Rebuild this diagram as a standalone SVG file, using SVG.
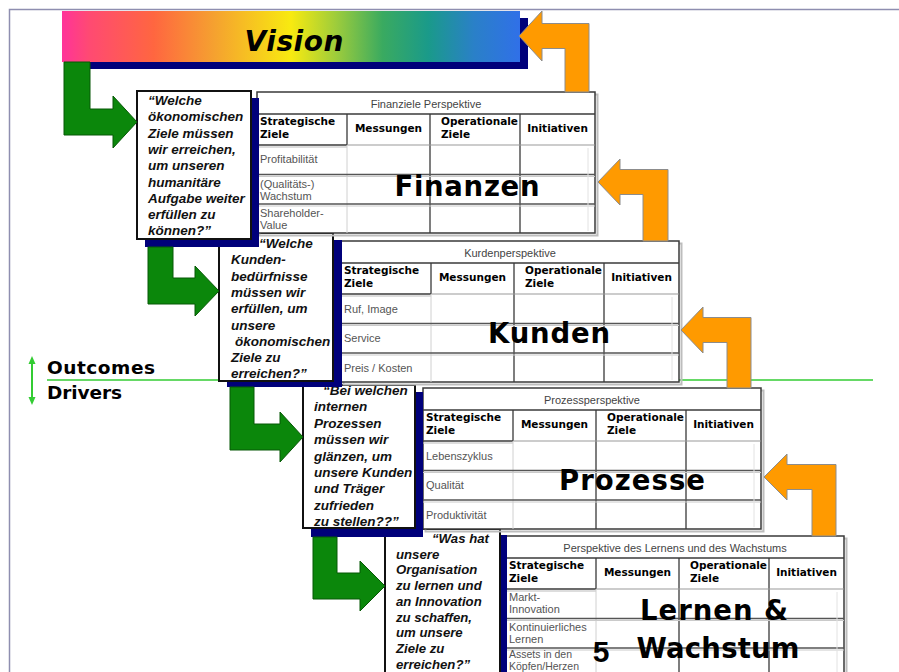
<svg xmlns="http://www.w3.org/2000/svg" width="899" height="672" viewBox="0 0 899 672">
  <defs>
    <linearGradient id="rainbow" x1="0" y1="0" x2="1" y2="0">
      <stop offset="0" stop-color="#ff3399"/>
      <stop offset="0.06" stop-color="#ff4a72"/>
      <stop offset="0.2" stop-color="#ff6640"/>
      <stop offset="0.33" stop-color="#f5a030"/>
      <stop offset="0.5" stop-color="#f8ea10"/>
      <stop offset="0.6" stop-color="#9ccc3c"/>
      <stop offset="0.7" stop-color="#3aaa60"/>
      <stop offset="0.8" stop-color="#1a9a8a"/>
      <stop offset="0.9" stop-color="#2a80c8"/>
      <stop offset="1" stop-color="#3070e8"/>
    </linearGradient>
    <!-- scorecard grid: title row, header row, three data rows, four columns -->
    <g id="grid">
      <rect x="2.5" y="2.5" width="338" height="141" fill="none" stroke="#bdbdbd" stroke-width="2"/>
      <rect x="0" y="0" width="338" height="141" fill="#fff" stroke="#3a3a3a" stroke-width="1.5"/>
      <path d="M0 22H338" stroke="#3a3a3a" stroke-width="1.3"/>
      <path d="M90 22V53M173 22V141M263 22V141" stroke="#3a3a3a" stroke-width="1.3"/>
      <path d="M0 53H90" stroke="#3a3a3a" stroke-width="1.6"/>
      <path d="M0 55H90" stroke="#bbb"/>
      <path d="M90 53H338" stroke="#999"/>
      <path d="M90 53V141" stroke="#d0d0d0"/>
      <path d="M0 82.5H338M0 112H338" stroke="#555" stroke-width="1.6"/>
      <path d="M0 84.5H338M0 114H338" stroke="#cacaca"/>
      <path d="M331 56V139" stroke="#e2e2e2"/>
    </g>
  </defs>
  <style>
    .q { font-family: "Liberation Sans", Arial, sans-serif; font-weight: bold; font-style: italic; font-size: 13.5px; fill: #111; }
    .q4 { font-size: 13.2px; }
    .box { fill: #fff; stroke: #111; stroke-width: 2; }
    .shadow { fill: #00007a; }
    .title { font-family: "Liberation Sans", Arial, sans-serif; font-size: 11px; fill: #444; text-anchor: middle; }
    .hd { font-family: "DejaVu Sans", sans-serif; font-weight: bold; font-size: 10.5px; fill: #000; }
    .hdc { font-family: "DejaVu Sans", sans-serif; font-weight: bold; font-size: 10.5px; fill: #000; text-anchor: middle; }
    .lbl { font-family: "Liberation Sans", Arial, sans-serif; font-size: 11px; fill: #555; }
    .sm { font-size: 10.5px; }
    .big { font-family: "DejaVu Sans", sans-serif; font-weight: bold; font-size: 27.5px; fill: #000; text-anchor: middle; }
    .legend { font-family: "DejaVu Sans", sans-serif; font-weight: bold; font-size: 18.5px; fill: #000; }
    .green { fill: #0b870b; stroke: #065806; stroke-width: 1; }
    .orange { fill: #ff9a00; stroke: #8c8c8c; stroke-width: 1; }
  </style>

  <!-- page frame -->
  <path d="M9.5 672V9.5H899" fill="none" stroke="#8e8eb0" stroke-width="1.5"/>

  <!-- outcomes / drivers divider -->
  <g id="legend">
    <path d="M47 380H873" stroke="#33cc33" stroke-width="1.6"/>
    <path d="M32 362V399" stroke="#33cc33" stroke-width="2"/>
    <polygon points="32,356 28.5,364 35.5,364" fill="#33cc33"/>
    <polygon points="32,405 28.5,397 35.5,397" fill="#33cc33"/>
    <text class="legend" x="47" y="374" textLength="108">Outcomes</text>
    <text class="legend" x="47" y="399" textLength="75">Drivers</text>
  </g>

  <!-- learning & growth -->
  <g id="table-lernen">
    <use href="#grid" x="506" y="536"/>
    <text class="title" x="675" y="552">Perspektive des Lernens und des Wachstums</text>
    <text class="hd" x="509" y="569">Strategische</text>
    <text class="hd" x="509" y="582">Ziele</text>
    <text class="hdc" x="637.5" y="576">Messungen</text>
    <text class="hd" x="690" y="569">Operationale</text>
    <text class="hd" x="690" y="582">Ziele</text>
    <text class="hdc" x="806.5" y="576">Initiativen</text>
    <text class="lbl" x="509" y="601">Markt-</text>
    <text class="lbl" x="509" y="613">Innovation</text>
    <text class="lbl" x="509" y="631">Kontinuierliches</text>
    <text class="lbl" x="509" y="643">Lernen</text>
    <text class="lbl sm" x="509" y="657.5">Assets in den</text>
    <text class="lbl sm" x="509" y="669.5">Köpfen/Herzen</text>
    <text class="big" x="714" y="620" textLength="148">Lernen &amp;</text>
    <text class="big" x="718" y="658" textLength="163">Wachstum</text>
    <text x="601" y="662" font-family="Liberation Sans, Arial, sans-serif" font-weight="bold" font-size="30" text-anchor="middle">5</text>
  </g>
  <g id="question-lernen">
    <rect class="shadow" x="392" y="535" width="115" height="140"/>
    <rect class="box" x="385" y="529" width="115" height="160"/>
    <text class="q q4">
      <tspan x="432" y="543">“Was hat</tspan>
      <tspan x="396" y="558.7">unsere</tspan>
      <tspan x="396" y="574.4">Organisation</tspan>
      <tspan x="396" y="590.1">zu lernen und</tspan>
      <tspan x="396" y="605.8">an Innovation</tspan>
      <tspan x="396" y="621.5">zu schaffen,</tspan>
      <tspan x="396" y="637.2">um unsere</tspan>
      <tspan x="396" y="652.9">Ziele zu</tspan>
      <tspan x="396" y="668.6">erreichen?”</tspan>
    </text>
  </g>

  <!-- processes -->
  <g id="table-prozesse">
    <use href="#grid" x="423" y="388"/>
    <text class="title" x="592" y="404">Prozessperspektive</text>
    <text class="hd" x="426" y="421">Strategische</text>
    <text class="hd" x="426" y="434">Ziele</text>
    <text class="hdc" x="554.5" y="428">Messungen</text>
    <text class="hd" x="607" y="421">Operationale</text>
    <text class="hd" x="607" y="434">Ziele</text>
    <text class="hdc" x="723.5" y="428">Initiativen</text>
    <text class="lbl" x="426" y="460">Lebenszyklus</text>
    <text class="lbl" x="426" y="489">Qualität</text>
    <text class="lbl" x="426" y="519">Produktivität</text>
    <text class="big" x="632" y="490" textLength="146">Prozesse</text>
  </g>
  <g id="question-prozesse">
    <rect class="shadow" x="311" y="392" width="112" height="145"/>
    <rect class="box" x="303" y="385" width="112" height="143"/>
    <text class="q">
      <tspan x="323" y="395">“Bei welchen</tspan>
      <tspan x="314" y="411.4">internen</tspan>
      <tspan x="314" y="427.8">Prozessen</tspan>
      <tspan x="314" y="444.2">müssen wir</tspan>
      <tspan x="314" y="460.6">glänzen, um</tspan>
      <tspan x="314" y="477">unsere Kunden</tspan>
      <tspan x="314" y="493.4">und Träger</tspan>
      <tspan x="314" y="509.8">zufrieden</tspan>
      <tspan x="314" y="526.2">zu stellen??”</tspan>
    </text>
  </g>

  <!-- customers -->
  <g id="table-kunden">
    <use href="#grid" x="341" y="241"/>
    <text class="title" x="510" y="257">Kurdenperspektive</text>
    <text class="hd" x="344" y="274">Strategische</text>
    <text class="hd" x="344" y="287">Ziele</text>
    <text class="hdc" x="472.5" y="281">Messungen</text>
    <text class="hd" x="525" y="274">Operationale</text>
    <text class="hd" x="525" y="287">Ziele</text>
    <text class="hdc" x="641.5" y="281">Initiativen</text>
    <text class="lbl" x="344" y="313">Ruf, Image</text>
    <text class="lbl" x="344" y="342">Service</text>
    <text class="lbl" x="344" y="372">Preis / Kosten</text>
    <text class="big" x="549" y="343" textLength="122">Kunden</text>
  </g>
  <g id="question-kunden">
    <rect class="shadow" x="227" y="240" width="115" height="147"/>
    <rect class="box" x="219" y="233" width="114" height="148"/>
    <text class="q">
      <tspan x="259" y="248">“Welche</tspan>
      <tspan x="231" y="264.3">Kunden-</tspan>
      <tspan x="231" y="280.6">bedürfnisse</tspan>
      <tspan x="231" y="296.9">müssen wir</tspan>
      <tspan x="231" y="313.2">erfüllen, um</tspan>
      <tspan x="231" y="329.5">unsere</tspan>
      <tspan x="235" y="345.8">ökonomischen</tspan>
      <tspan x="231" y="362.1">Ziele zu</tspan>
      <tspan x="231" y="378.4">erreichen?”</tspan>
    </text>
  </g>

  <!-- finance -->
  <g id="table-finanzen">
    <use href="#grid" x="257" y="92"/>
    <text class="title" x="426" y="108">Finanziele Perspektive</text>
    <text class="hd" x="260" y="125">Strategische</text>
    <text class="hd" x="260" y="138">Ziele</text>
    <text class="hdc" x="388.5" y="132">Messungen</text>
    <text class="hd" x="441" y="125">Operationale</text>
    <text class="hd" x="441" y="138">Ziele</text>
    <text class="hdc" x="557.5" y="132">Initiativen</text>
    <text class="lbl" x="260" y="163">Profitabilität</text>
    <text class="lbl" x="260" y="188">(Qualitäts-)</text>
    <text class="lbl" x="260" y="200">Wachstum</text>
    <text class="lbl" x="260" y="217">Shareholder-</text>
    <text class="lbl" x="260" y="229">Value</text>
    <text class="big" x="467" y="196" textLength="145">Finanzen</text>
  </g>
  <g id="question-finanzen">
    <rect class="shadow" x="145" y="98" width="114" height="149"/>
    <rect class="box" x="137" y="91" width="114" height="148"/>
    <text class="q">
      <tspan x="148" y="105">“Welche</tspan>
      <tspan x="148" y="121.3">ökonomischen</tspan>
      <tspan x="148" y="137.6">Ziele müssen</tspan>
      <tspan x="148" y="153.9">wir erreichen,</tspan>
      <tspan x="148" y="170.2">um unseren</tspan>
      <tspan x="148" y="186.5">humanitäre</tspan>
      <tspan x="148" y="202.8">Aufgabe weiter</tspan>
      <tspan x="148" y="219.1">erfüllen zu</tspan>
      <tspan x="148" y="235.4">können?”</tspan>
    </text>
  </g>

  <!-- vision banner -->
  <g id="vision">
    <rect class="shadow" x="70" y="18" width="458" height="51"/>
    <rect x="62" y="11" width="458" height="51" fill="url(#rainbow)"/>
    <text x="294" y="51" font-family="DejaVu Sans, sans-serif" font-weight="bold" font-style="italic" font-size="28" text-anchor="middle" textLength="99">Vision</text>
  </g>

  <!-- connectors: green = top-down questions, orange = bottom-up feedback -->
  <g id="connectors">
    <path class="green" d="M64 62H90V109H113V96L137 122L113 148V135H64Z"/>
    <path class="green" d="M148 247H173V278H195V266L219 291L195 316V304H148Z"/>
    <path class="green" d="M230 387H254V424H280V412L303 437L280 462V450H230Z"/>
    <path class="green" d="M313 537H337V573H360V561L385 586L360 611V599H313Z"/>

    <path class="orange" d="M519 36L542 11V23.5H589V92H565V48.5H542V61Z"/>
    <path class="orange" d="M598 182L620 159V169.5H668V241H643V194.5H620V205Z"/>
    <path class="orange" d="M681 330L703 307V317.5H751V388H727V342.5H703V353Z"/>
    <path class="orange" d="M764 477L787 454V464.5H836V536H812V489.5H787V500Z"/>
  </g>
</svg>
